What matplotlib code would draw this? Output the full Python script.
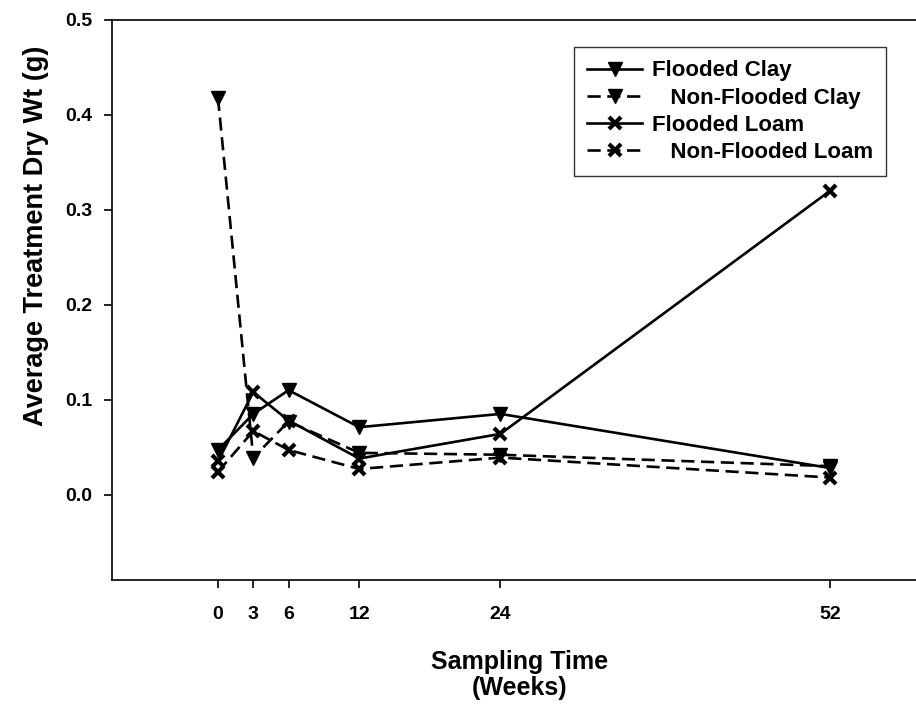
import matplotlib
matplotlib.use("Agg")
import matplotlib.pyplot as plt

plt.rcParams['font.family'] = ['Liberation Sans', 'DejaVu Sans']
plt.rcParams['font.weight'] = 'bold'

# sampling times (weeks) and mean dry weights (g)
weeks = [0, 3, 6, 12, 24, 52]
flooded_clay = [0.047, 0.085, 0.110, 0.071, 0.085, 0.028]
nonflooded_clay = [0.418, 0.039, 0.077, 0.044, 0.042, 0.030]
flooded_loam = [0.035, 0.108, 0.078, 0.038, 0.064, 0.320]
nonflooded_loam = [0.024, 0.067, 0.047, 0.027, 0.039, 0.018]

labels = ["Flooded Clay", "   Non-Flooded Clay", "Flooded Loam", "   Non-Flooded Loam"]
y_ticks = [0.0, 0.1, 0.2, 0.3, 0.4, 0.5]

fig = plt.figure(figsize=(9.16, 7.10), dpi=100)
ax = fig.add_axes([0.1223, 0.183, 0.8777, 0.789])

dash = (0, (5, 2.5))
line_kw = dict(color='black', linewidth=1.9)
tri_kw = dict(marker='v', markersize=10, markerfacecolor='black', markeredgecolor='black')
x_kw = dict(marker='x', markersize=9, markeredgewidth=3, markeredgecolor='black')

ax.plot(weeks, flooded_clay, linestyle='-', label=labels[0], **line_kw, **tri_kw)
ax.plot(weeks, nonflooded_clay, linestyle=dash, label=labels[1], **line_kw, **tri_kw)
ax.plot(weeks, flooded_loam, linestyle='-', label=labels[2], **line_kw, **x_kw)
ax.plot(weeks, nonflooded_loam, linestyle=dash, label=labels[3], **line_kw, **x_kw)

ax.set_xlim(-9, 59.3)
ax.set_ylim(-0.09, 0.5)
ax.set_xticks(weeks)
ax.set_yticks(y_ticks)
ax.set_yticklabels([f"{v:.1f}" for v in y_ticks])

ax.spines['right'].set_visible(False)
for side in ('left', 'top', 'bottom'):
    ax.spines[side].set_linewidth(1.2)
ax.tick_params(axis='both', direction='out', length=6, width=1.2, labelsize=14)
ax.tick_params(axis='x', pad=13)
ax.tick_params(axis='y', pad=8)

ax.set_xlabel("Sampling Time\n(Weeks)", fontsize=18, fontweight='bold', labelpad=19,
              linespacing=1.1)
ax.xaxis.label.set_x(0.507)
ax.set_ylabel("Average Treatment Dry Wt (g)", fontsize=19.5, fontweight='bold', labelpad=12)
ax.yaxis.label.set_y(0.614)

leg = ax.legend(loc='upper left', bbox_to_anchor=(574 / 916, 1 - 47 / 710),
                bbox_transform=fig.transFigure, fontsize=16, frameon=True,
                fancybox=False, edgecolor='black', handlelength=2.45,
                handletextpad=0.45, labelspacing=0.28, borderpad=0.6,
                borderaxespad=0)
leg.get_frame().set_linewidth(1.0)
for t in leg.get_texts():
    t.set_fontweight('bold')

fig.savefig("out.png", dpi=100)
